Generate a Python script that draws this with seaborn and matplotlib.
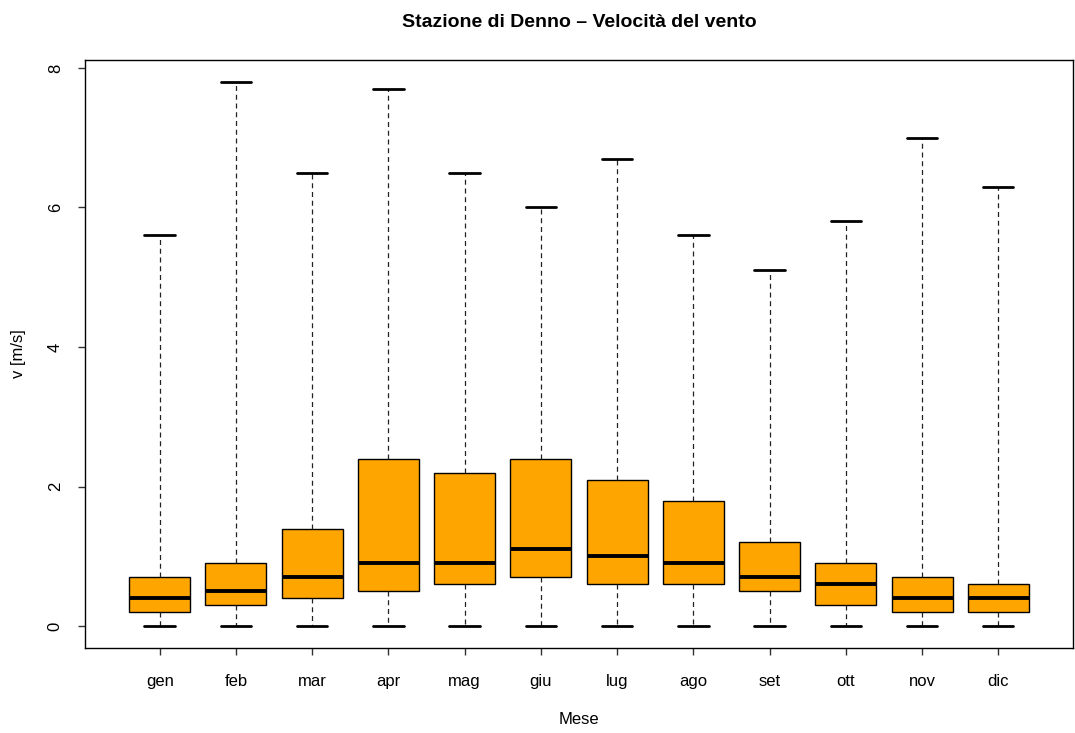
import numpy as np
import pandas as pd
import matplotlib
matplotlib.use("Agg")
import matplotlib.pyplot as plt
import seaborn as sns

# Monthly wind speed summary (m/s): min, quartiles, median, max
months = ["gen", "feb", "mar", "apr", "mag", "giu",
          "lug", "ago", "set", "ott", "nov", "dic"]
v_min = [0, 0, 0, 0, 0, 0, 0, 0, 0, 0, 0, 0]
v_q1 = [0.2, 0.3, 0.4, 0.5, 0.6, 0.7, 0.6, 0.6, 0.5, 0.3, 0.2, 0.2]
v_med = [0.4, 0.5, 0.7, 0.9, 0.9, 1.1, 1.0, 0.9, 0.7, 0.6, 0.4, 0.4]
v_q3 = [0.7, 0.9, 1.4, 2.4, 2.2, 2.4, 2.1, 1.8, 1.2, 0.9, 0.7, 0.6]
v_max = [5.6, 7.8, 6.5, 7.7, 6.5, 6.0, 6.7, 5.6, 5.1, 5.8, 7.0, 6.3]

sns.set_style("white")
plt.rcParams["font.family"] = ["Liberation Sans", "DejaVu Sans"]
plt.rcParams["text.color"] = "black"
plt.rcParams["axes.labelcolor"] = "black"
plt.rcParams["xtick.color"] = "black"
plt.rcParams["ytick.color"] = "black"

# five values per month reproduce exactly the quartiles with linear percentiles
rows = []
for i, m in enumerate(months):
    for v in (v_min[i], v_q1[i], v_med[i], v_q3[i], v_max[i]):
        rows.append({"Mese": m, "v": v})
df = pd.DataFrame(rows)

fig = plt.figure(figsize=(10.75, 7.33), dpi=100)
ax = fig.add_axes([0.0791, 0.116, 0.919, 0.802])

sns.boxplot(
    data=df, x="Mese", y="v", order=months, ax=ax,
    color="#FFA500", saturation=1, width=0.8, whis=np.inf,
    linecolor="black", linewidth=1.0, showfliers=False,
    boxprops=dict(facecolor="#FFA500", edgecolor="black", linewidth=1.0),
    medianprops=dict(color="black", linewidth=2.8),
    whiskerprops=dict(color="#222222", linewidth=0.9, linestyle=(0, (4, 3))),
    capprops=dict(color="black", linewidth=2.0),
)

ax.set_xlim(-0.98, 11.98)
ax.set_ylim(-0.312, 8.112)
ax.set_yticks([0, 2, 4, 6, 8])
ax.set_yticklabels(["0", "2", "4", "6", "8"], rotation=90, va="center")

for s in ax.spines.values():
    s.set_visible(True)
    s.set_color("black")
    s.set_linewidth(1.0)

ax.tick_params(axis="both", which="major", direction="out", length=5,
               width=1.0, color="#333333", labelsize=12, bottom=True, left=True)
ax.tick_params(axis="x", pad=13.5)
ax.tick_params(axis="y", pad=11)

ax.set_xlabel("Mese", fontsize=12, labelpad=17)
ax.set_ylabel("v [m/s]", fontsize=12, labelpad=16)
ax.set_title("Stazione di Denno – Velocità del vento",
             fontsize=14, fontweight="bold", pad=24)

fig.savefig("out.png", dpi=100, facecolor="white")
